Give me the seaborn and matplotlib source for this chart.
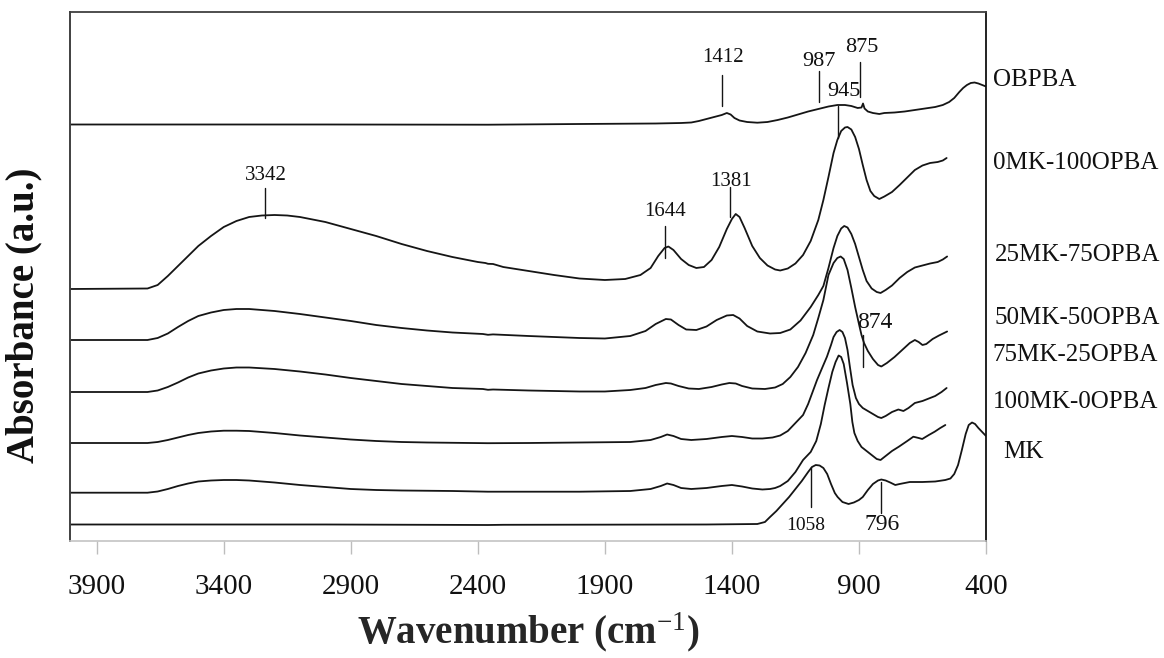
import matplotlib
matplotlib.use("Agg")
import matplotlib.pyplot as plt
import matplotlib.transforms as mtransforms
import pandas as pd
import seaborn as sns

# ---------------- data ----------------
obpba_wn = [4005, 3000, 2360, 2000, 1700, 1600, 1560, 1530, 1500, 1470, 1440, 1420, 1405, 1390,
            1370, 1340, 1300, 1260, 1220, 1180, 1140, 1100, 1060, 1020, 985, 955, 930, 905, 890,
            884, 878, 865, 845, 820, 800, 760, 720, 680, 640, 600, 570, 545, 525, 505, 490, 475,
            460, 445, 430, 415, 400]
obpba_ab = [4.165, 4.165, 4.163, 4.17, 4.175, 4.18, 4.185, 4.20, 4.22, 4.24, 4.26, 4.28, 4.265, 4.23,
            4.205, 4.19, 4.183, 4.19, 4.21, 4.235, 4.265, 4.295, 4.32, 4.345, 4.36, 4.36, 4.35, 4.33, 4.335,
            4.375, 4.325, 4.295, 4.28, 4.27, 4.28, 4.285, 4.295, 4.31, 4.325, 4.34, 4.36, 4.39, 4.43, 4.49,
            4.53, 4.56, 4.58, 4.585, 4.575, 4.56, 4.545]

mk0_wn = [4005, 3700, 3660, 3620, 3580, 3540, 3500, 3450, 3400, 3350, 3300, 3250, 3200, 3150, 3100,
          3000, 2900, 2800, 2700, 2600, 2500, 2400, 2370, 2360, 2340, 2300, 2200, 2100, 2000, 1900,
          1820, 1760, 1720, 1690, 1665, 1650, 1630, 1600, 1570, 1540, 1510, 1480, 1450, 1420, 1400,
          1385, 1370, 1350, 1320, 1290, 1260, 1230, 1210, 1180, 1150, 1120, 1090, 1060, 1040, 1020,
          1000, 985, 970, 955, 945, 930, 915, 900, 885, 870, 855, 840, 820, 800, 770, 740, 710, 680,
          650, 620, 590, 570, 555]
mk0_ab = [2.52, 2.525, 2.56, 2.65, 2.75, 2.85, 2.95, 3.05, 3.14, 3.20, 3.24, 3.255, 3.26, 3.255, 3.24,
          3.19, 3.12, 3.05, 2.97, 2.90, 2.84, 2.79, 2.78, 2.772, 2.77, 2.74, 2.70, 2.66, 2.625, 2.61,
          2.62, 2.66, 2.73, 2.85, 2.93, 2.945, 2.91, 2.82, 2.76, 2.73, 2.74, 2.81, 2.94, 3.12, 3.22,
          3.27, 3.24, 3.13, 2.95, 2.83, 2.755, 2.715, 2.705, 2.725, 2.775, 2.86, 3.00, 3.21, 3.41, 3.64,
          3.88, 4.01, 4.10, 4.135, 4.14, 4.115, 4.04, 3.92, 3.76, 3.61, 3.50, 3.45, 3.42, 3.445, 3.49,
          3.56, 3.635, 3.71, 3.755, 3.78, 3.79, 3.805, 3.83]

mk25_wn = [4005, 3700, 3660, 3620, 3580, 3540, 3500, 3450, 3400, 3350, 3300, 3200, 3100, 3000, 2900,
           2800, 2700, 2600, 2500, 2380, 2360, 2340, 2200, 2100, 2000, 1900, 1800, 1740, 1700, 1660,
           1640, 1610, 1580, 1540, 1500, 1460, 1420, 1395, 1370, 1340, 1300, 1250, 1210, 1170, 1130,
           1090, 1060, 1040, 1020, 1000, 985, 970, 958, 945, 930, 915, 900, 885, 870, 850, 830, 815,
           795, 770, 740, 710, 680, 650, 620, 590, 570, 553]
mk25_ab = [2.01, 2.01, 2.03, 2.075, 2.14, 2.20, 2.25, 2.285, 2.31, 2.32, 2.32, 2.30, 2.27, 2.235, 2.20,
           2.16, 2.13, 2.105, 2.085, 2.07, 2.062, 2.066, 2.05, 2.04, 2.03, 2.025, 2.05, 2.10, 2.17, 2.22,
           2.215, 2.16, 2.115, 2.11, 2.145, 2.21, 2.255, 2.26, 2.225, 2.15, 2.095, 2.075, 2.08, 2.115, 2.205,
           2.34, 2.46, 2.55, 2.73, 2.93, 3.05, 3.125, 3.15, 3.135, 3.07, 2.97, 2.84, 2.71, 2.60, 2.525, 2.49,
           2.48, 2.51, 2.555, 2.63, 2.69, 2.735, 2.755, 2.775, 2.79, 2.815, 2.845]

mk50_wn = [4005, 3700, 3660, 3620, 3580, 3540, 3500, 3450, 3400, 3350, 3300, 3200, 3100, 3000, 2900,
           2800, 2700, 2600, 2500, 2380, 2360, 2340, 2200, 2000, 1900, 1800, 1740, 1700, 1660, 1640,
           1610, 1570, 1530, 1480, 1440, 1410, 1385, 1360, 1320, 1270, 1230, 1200, 1170, 1140, 1110,
           1080, 1060, 1040, 1020, 1000, 985, 972, 960, 945, 930, 915, 900, 890, 880, 865, 845, 825,
           812, 790, 760, 730, 700, 680, 665, 650, 635, 610, 585, 565, 553]
mk50_ab = [1.49, 1.49, 1.505, 1.54, 1.585, 1.635, 1.675, 1.705, 1.725, 1.735, 1.735, 1.72, 1.695, 1.665, 1.63,
           1.60, 1.57, 1.55, 1.53, 1.52, 1.512, 1.515, 1.505, 1.495, 1.495, 1.51, 1.53, 1.56, 1.58, 1.575,
           1.55, 1.525, 1.52, 1.54, 1.565, 1.58, 1.575, 1.55, 1.525, 1.52, 1.535, 1.57, 1.64, 1.74, 1.88,
           2.06, 2.23, 2.41, 2.66, 2.78, 2.83, 2.845, 2.82, 2.71, 2.53, 2.34, 2.17, 2.06, 1.98, 1.90, 1.82,
           1.76, 1.745, 1.78, 1.84, 1.91, 1.98, 2.01, 1.99, 1.96, 1.97, 2.02, 2.055, 2.08, 2.095]

mk75_wn = [4005, 3700, 3660, 3620, 3580, 3540, 3500, 3450, 3400, 3350, 3300, 3200, 3100, 3000, 2900,
           2800, 2700, 2600, 2360, 2200, 2000, 1800, 1720, 1680, 1655, 1630, 1600, 1560, 1500, 1440,
           1400, 1360, 1320, 1280, 1240, 1210, 1180, 1150, 1120, 1100, 1065, 1045, 1026, 1010, 1000,
           988, 976, 965, 955, 945, 935, 925, 912, 900, 885, 865, 845, 825, 812, 795, 770, 745, 725,
           705, 680, 650, 630, 600, 575, 555]
mk75_ab = [0.98, 0.98, 0.99, 1.01, 1.035, 1.06, 1.08, 1.095, 1.103, 1.103, 1.10, 1.08, 1.055, 1.035, 1.015,
           1.00, 0.99, 0.985, 0.978, 0.98, 0.985, 0.99, 1.01, 1.04, 1.065, 1.05, 1.02, 1.01, 1.02, 1.04,
           1.05, 1.04, 1.025, 1.025, 1.035, 1.055, 1.10, 1.18, 1.26, 1.37, 1.61, 1.73, 1.843, 1.96, 2.04,
           2.09, 2.11, 2.09, 2.03, 1.91, 1.73, 1.56, 1.43, 1.37, 1.33, 1.30, 1.27, 1.24, 1.23, 1.25, 1.29,
           1.315, 1.30, 1.33, 1.38, 1.40, 1.42, 1.45, 1.49, 1.53]

mk100_wn = [4005, 3700, 3660, 3620, 3580, 3540, 3500, 3450, 3400, 3350, 3300, 3200, 3100, 3000, 2900,
            2800, 2700, 2500, 2360, 2200, 2000, 1800, 1720, 1680, 1655, 1630, 1600, 1560, 1500, 1440,
            1400, 1360, 1320, 1280, 1250, 1230, 1210, 1180, 1150, 1120, 1090, 1068, 1050, 1035, 1020,
            1005, 992, 980, 970, 960, 947, 934, 926, 918, 905, 890, 870, 850, 830, 815, 795, 770, 743,
            710, 686, 665, 651, 625, 602, 580, 560]
mk100_ab = [0.483, 0.483, 0.495, 0.52, 0.55, 0.575, 0.595, 0.605, 0.61, 0.61, 0.605, 0.585, 0.56, 0.54, 0.52,
            0.51, 0.505, 0.50, 0.493, 0.493, 0.493, 0.50, 0.52, 0.55, 0.575, 0.56, 0.53, 0.52, 0.53, 0.55,
            0.56, 0.545, 0.525, 0.515, 0.52, 0.53, 0.55, 0.60, 0.69, 0.81, 0.89, 1.00, 1.17, 1.36, 1.53,
            1.69, 1.79, 1.855, 1.84, 1.77, 1.58, 1.37, 1.19, 1.08, 1.00, 0.94, 0.90, 0.86, 0.82, 0.81, 0.85,
            0.90, 0.943, 1.00, 1.043, 1.03, 1.02, 1.06, 1.093, 1.13, 1.16]

mk_wn = [4005, 3000, 2360, 2300, 1500, 1300, 1270, 1250, 1225, 1200, 1175, 1150, 1125, 1100, 1085,
         1070, 1055, 1040, 1025, 1010, 995, 984, 965, 941, 920, 900, 885, 865, 845, 825, 812, 795,
         777, 757, 740, 700, 650, 600, 560, 540, 525, 510, 495, 480, 468, 455, 443, 430, 415, 400]
mk_ab = [0.165, 0.165, 0.16, 0.162, 0.165, 0.17, 0.19, 0.24, 0.30, 0.37, 0.44, 0.52, 0.60, 0.69, 0.74,
         0.76, 0.755, 0.73, 0.67, 0.57, 0.48, 0.44, 0.39, 0.37, 0.385, 0.41, 0.44, 0.51, 0.57, 0.605, 0.615,
         0.605, 0.585, 0.56, 0.57, 0.59, 0.59, 0.595, 0.61, 0.625, 0.67, 0.76, 0.91, 1.07, 1.16, 1.185,
         1.17, 1.13, 1.09, 1.05]

sample_names = ["OBPBA", "0MK-100OPBA", "25MK-75OPBA", "50MK-50OPBA",
                "75MK-25OPBA", "100MK-0OPBA", "MK"]
sample_wn = [obpba_wn, mk0_wn, mk25_wn, mk50_wn, mk75_wn, mk100_wn, mk_wn]
sample_ab = [obpba_ab, mk0_ab, mk25_ab, mk50_ab, mk75_ab, mk100_ab, mk_ab]

# right-hand sample labels: x in axes fraction, y in data units
label_x = [1.0076, 1.0076, 1.0098, 1.0098, 1.0066, 1.0076, 1.0186]
label_y = [4.61, 3.78, 2.86, 2.23, 1.86, 1.39, 0.89]

# peak annotations: text, line x (cm-1), line top, line bottom, text x, text y, size
peak_text = ["3342", "1412", "987", "875", "945", "1381", "1644", "874", "1058", "796"]
peak_x = [3237, 1440, 1057, 896, 981, 1407, 1663, 884, 1090, 814]
peak_y_top = [3.53, 4.66, 4.70, 4.79, 4.35, 3.54, 3.15, 2.06, 0.74, 0.59]
peak_y_bot = [3.23, 4.35, 4.39, 4.44, 4.03, 3.24, 2.83, 1.74, 0.34, 0.28]
peak_tx = [3233, 1436, 1059, 887, 959, 1405, 1663, 839, 1111, 808]
peak_ty = [3.66, 4.83, 4.79, 4.93, 4.50, 3.595, 3.30, 2.19, 0.16, 0.16]
peak_size = [15, 15, 16, 16, 16, 15, 15, 17, 14, 17]

xticks = [3900, 3400, 2900, 2400, 1900, 1400, 900, 400]

# ---------------- plotting ----------------
sns.set_theme(style="white")
plt.rcParams["font.family"] = ["Liberation Serif", "DejaVu Serif"]
plt.rcParams["mathtext.fontset"] = "custom"
plt.rcParams["mathtext.rm"] = "Liberation Serif"
plt.rcParams["mathtext.it"] = "Liberation Serif:italic"
plt.rcParams["mathtext.bf"] = "Liberation Serif:bold"

frames = []
for name, wn, ab in zip(sample_names, sample_wn, sample_ab):
    frames.append(pd.DataFrame({"wavenumber": wn, "absorbance": ab, "sample": name}))
df = pd.concat(frames, ignore_index=True)

W, H = 1164, 658
fig = plt.figure(figsize=(W / 100, H / 100), dpi=100)
ax = fig.add_axes([70 / W, 1 - 541 / H, (986 - 70) / W, (541 - 12) / H])

sns.lineplot(data=df, x="wavenumber", y="absorbance", hue="sample",
             palette=["#151515"] * len(sample_names), hue_order=sample_names,
             estimator=None, sort=False, legend=False, linewidth=1.3, ax=ax)

ax.set_xlim(4005, 400)
ax.set_ylim(0, 5.29)
ax.set_xticks(xticks)
ax.set_xticklabels([str(t) for t in xticks])
ax.set_yticks([])
ax.set_ylabel("")
ax.set_xlabel(r"Wavenumber (cm$^{-1}$)", fontsize=28, fontweight="bold", labelpad=8)

ax.tick_params(axis="x", bottom=True, direction="out", length=9.5, width=1.0,
               color="#bdbdbd", labelsize=21, pad=14, labelcolor="#111111")

for side, col, lw in [("left", "#404040", 1.4), ("top", "#404040", 1.3),
                      ("right", "#111111", 1.3), ("bottom", "#c4c4c4", 1.2)]:
    ax.spines[side].set_visible(True)
    ax.spines[side].set_color(col)
    ax.spines[side].set_linewidth(lw)

fig.text(24 / W, 1 - 315 / H, "Absorbance (a.u.)", rotation=90, fontsize=28,
         fontweight="bold", ha="center", va="center", color="#111111")

trans = mtransforms.blended_transform_factory(ax.transAxes, ax.transData)
for name, lx, ly in zip(sample_names, label_x, label_y):
    ax.text(lx, ly, name, transform=trans, ha="left", va="center",
            fontsize=18, color="#111111", clip_on=False)

for txt, x, yt, yb, tx, ty, sz in zip(peak_text, peak_x, peak_y_top, peak_y_bot,
                                       peak_tx, peak_ty, peak_size):
    ax.plot([x, x], [yb, yt], color="#151515", linewidth=1.0)
    ax.text(tx, ty, txt, ha="center", va="center", fontsize=sz, color="#111111")

fig.savefig("out.png", dpi=100)
